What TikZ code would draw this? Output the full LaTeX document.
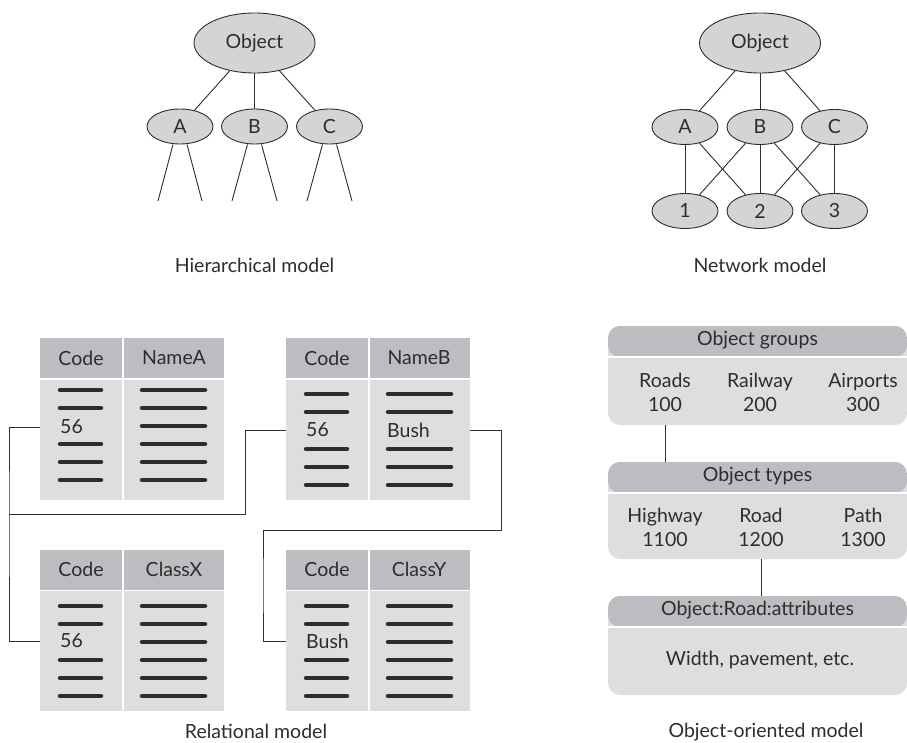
\documentclass[tikz,border=0pt]{standalone}
\usepackage{fontspec}
\setmainfont{Lato}
\usetikzlibrary{shapes.geometric, positioning}

\definecolor{ellgray}{RGB}{212,212,214}
\definecolor{headgray}{RGB}{188,189,192}
\definecolor{bodygray}{RGB}{221,222,224}
\definecolor{inkgray}{RGB}{45,45,45}

\tikzset{
  txt/.style={font=\fontsize{19.5}{24}\selectfont, text=inkgray},
  ell/.style={ellipse, draw=inkgray, line width=0.9pt, fill=ellgray, inner sep=0pt,
    minimum width=66pt, minimum height=35pt, txt},
  bigell/.style={ell, minimum width=121pt, minimum height=60pt},
  link/.style={draw=inkgray, line width=0.9pt},
  bar/.style={draw=inkgray, line width=4.5pt, line cap=round},
  tabcell/.style={rectangle, inner sep=0pt, minimum width=184pt,
    path picture={\draw[white, line width=2pt]
      ([xshift=83pt]path picture bounding box.south west) --
      ([xshift=83pt]path picture bounding box.north west);}},
  tabhead/.style={tabcell, fill=headgray, minimum height=40pt},
  tabbody/.style={tabcell, fill=bodygray, minimum height=120pt},
  cellval/.style={txt, anchor=west, inner sep=0pt},
  obox/.style={rectangle, rounded corners=12pt, fill=bodygray, inner sep=0pt,
    minimum width=299pt,
    path picture={\fill[headgray] (path picture bounding box.north west) rectangle
      ([yshift=-31pt]path picture bounding box.north east);
      \draw[white, line width=1.5pt] ([yshift=-31pt]path picture bounding box.north west) --
      ([yshift=-31pt]path picture bounding box.north east);}}
}

\begin{document}
\begin{tikzpicture}[x=1pt, y=-1pt]
\useasboundingbox (0,0) rectangle (907,743);

% Hierarchical model
\node[bigell] (hobj) at (254.5,43) {Object};
\node[ell] (ha) at (180,126.5) {A};
\node[ell] (hb) at (254.5,126.5) {B};
\node[ell] (hc) at (329.5,126.5) {C};
\draw[link] (hobj) -- (ha);
\draw[link] (hobj) -- (hb);
\draw[link] (hobj) -- (hc);
\coordinate (ha-l) at (158,201);
\coordinate (ha-r) at (202,201);
\coordinate (hb-l) at (232,201);
\coordinate (hb-r) at (277,201);
\coordinate (hc-l) at (307,201);
\coordinate (hc-r) at (352,201);
\draw[link] ([xshift=-7pt]ha.south) -- (ha-l);
\draw[link] ([xshift=7pt]ha.south) -- (ha-r);
\draw[link] ([xshift=-7pt]hb.south) -- (hb-l);
\draw[link] ([xshift=7pt]hb.south) -- (hb-r);
\draw[link] ([xshift=-7pt]hc.south) -- (hc-l);
\draw[link] ([xshift=7pt]hc.south) -- (hc-r);
\node[txt] (hlabel) at (254.5,265) {Hierarchical model};

% Network model
\node[bigell] (nobj) at (760,43) {Object};
\node[ell] (na) at (685,127) {A};
\node[ell] (nb) at (760,127) {B};
\node[ell] (nc) at (834.5,127) {C};
\node[ell] (n1) at (685,211) {1};
\node[ell] (n2) at (760,211) {2};
\node[ell] (n3) at (834.5,211) {3};
\draw[link] (nobj) -- (na);
\draw[link] (nobj) -- (nb);
\draw[link] (nobj) -- (nc);
\draw[link] (na) -- (n1);
\draw[link] (na) -- (n2);
\draw[link] (nb) -- (n1);
\draw[link] (nb) -- (n2);
\draw[link] (nb) -- (n3);
\draw[link] (nc) -- (n2);
\draw[link] (nc) -- (n3);
\node[txt] (nlabel) at (760,265) {Network model};

% Relational model: tables
\node[tabhead] (t1h) at (132,358) {};
\node[tabbody] (t1) at (132,440) {};
\node[tabhead] (t2h) at (378,358) {};
\node[tabbody] (t2) at (378,440) {};
\node[tabhead] (t3h) at (132,569.5) {};
\node[tabbody] (t3) at (132,651) {};
\node[tabhead] (t4h) at (378,569.5) {};
\node[tabbody] (t4) at (378,651) {};

\node[txt] at (81,358) {Code};
\node[txt] at (174,358) {NameA};
\node[txt] at (327,358) {Code};
\node[txt] at (419,358) {NameB};
\node[txt] at (81,569.5) {Code};
\node[txt] at (174,569.5) {ClassX};
\node[txt] at (327,569.5) {Code};
\node[txt] at (419,569.5) {ClassY};

% record bars
\draw[bar] (60,390) -- (101,390) (60,408) -- (101,408) (60,444) -- (101,444)
  (60,462) -- (101,462) (60,480) -- (101,480);
\draw[bar] (142,390) -- (205,390) (142,408) -- (205,408) (142,426) -- (205,426)
  (142,444) -- (205,444) (142,462) -- (205,462) (142,480) -- (205,480);
\draw[bar] (306,394) -- (347,394) (306,412) -- (347,412) (306,449) -- (347,449)
  (306,467) -- (347,467) (306,485) -- (347,485);
\draw[bar] (388,394) -- (451,394) (388,412) -- (451,412) (388,449) -- (451,449)
  (388,467) -- (451,467) (388,485) -- (451,485);
\draw[bar] (60,606) -- (101,606) (60,624) -- (101,624) (60,660) -- (101,660)
  (60,678) -- (101,678) (60,696) -- (101,696);
\draw[bar] (142,606) -- (205,606) (142,624) -- (205,624) (142,642) -- (205,642)
  (142,660) -- (205,660) (142,678) -- (205,678) (142,696) -- (205,696);
\draw[bar] (306,606) -- (347,606) (306,624) -- (347,624) (306,660) -- (347,660)
  (306,678) -- (347,678) (306,696) -- (347,696);
\draw[bar] (388,606) -- (451,606) (388,624) -- (451,624) (388,642) -- (451,642)
  (388,660) -- (451,660) (388,678) -- (451,678) (388,696) -- (451,696);

% key values
\node[cellval] (t1v) at (60,427) {56};
\node[cellval] (t2v) at (306,430) {56};
\node[cellval] (t2w) at (387,430) {Bush};
\node[cellval] (t3v) at (60,641) {56};
\node[cellval] (t4w) at (306,641) {Bush};

% joins
\coordinate (jl) at (9,514);
\coordinate (jm) at (245,514);
\coordinate (jr) at (501,530);
\coordinate (jq) at (263,585);
\draw[link] (t1v -| t1.west) -| (jl) |- (t3v -| t3.west);
\draw[link] (jl) -| (jm) |- (t2v -| t2.west);
\draw[link] (t2w -| t2.east) -| (jr) -| (jq) |- (t4w -| t4.west);
\node[txt] (rlabel) at (256,731) {Relational model};

% Object-oriented model
\node[obox, minimum height=99pt] (grp) at (757.5,375.5) {};
\node[obox, minimum height=97pt] (typ) at (757.5,510.5) {};
\node[obox, minimum height=99pt] (att) at (757.5,645.5) {};

\node[txt] at (757.5,340.5) {Object groups};
\node[txt, align=center] (roads) at (665,392) {Roads\\100};
\node[txt, align=center] (rail) at (760,392) {Railway\\200};
\node[txt, align=center] (airp) at (863,392) {Airports\\300};

\node[txt] at (757.5,476) {Object types};
\node[txt, align=center] (hway) at (665,527) {Highway\\1100};
\node[txt, align=center] (road) at (761,527) {Road\\1200};
\node[txt, align=center] (path) at (863,527) {Path\\1300};

\node[txt] at (757.5,610.5) {Object:Road:attributes};
\node[txt] (attr) at (760,660) {Width, pavement, etc.};

\draw[link] (grp.south -| roads) -- (typ.north -| roads);
\draw[link] (typ.south -| road) -- (att.north -| road);
\node[txt] (olabel) at (766,732) {Object-oriented model};
\end{tikzpicture}
\end{document}
